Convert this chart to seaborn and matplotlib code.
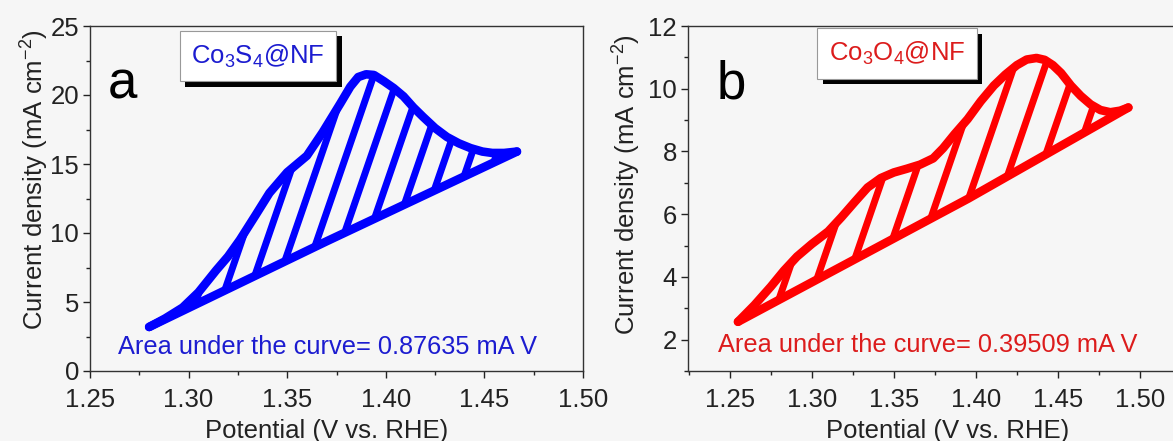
import numpy as np
import matplotlib
matplotlib.use("Agg")
import matplotlib.pyplot as plt
import seaborn as sns
from matplotlib.patches import Polygon
from matplotlib.ticker import MultipleLocator
import matplotlib.patheffects as pe

# ---------------- data ----------------
# Panel a: Co3S4@NF
a_upper_x = [1.280, 1.288, 1.297, 1.305, 1.314, 1.320, 1.326, 1.334, 1.341, 1.350,
             1.360, 1.368, 1.377, 1.382, 1.386, 1.390, 1.394, 1.399, 1.404, 1.409,
             1.414, 1.419, 1.425, 1.431, 1.437, 1.443, 1.449, 1.454, 1.460, 1.4665]
a_upper_y = [3.19, 3.8, 4.6, 5.7, 7.3, 8.3, 9.5, 11.3, 12.9, 14.4,
             15.6, 17.3, 19.4, 20.6, 21.3, 21.5, 21.45, 21.0, 20.5, 19.9,
             19.1, 18.4, 17.6, 16.96, 16.5, 16.15, 15.9, 15.8, 15.8, 15.9]
a_lower_x = [1.280, 1.370, 1.4665]
a_lower_y = [3.19, 9.4, 15.9]

# Panel b: Co3O4@NF
b_upper_x = [1.255, 1.265, 1.275, 1.283, 1.291, 1.300, 1.310, 1.318, 1.326, 1.334,
             1.342, 1.350, 1.358, 1.366, 1.374, 1.380, 1.387, 1.395, 1.403, 1.411,
             1.418, 1.425, 1.431, 1.437, 1.442, 1.447, 1.452, 1.458, 1.464, 1.470,
             1.476, 1.482, 1.488, 1.493]
b_upper_y = [2.57, 3.1, 3.69, 4.2, 4.65, 5.05, 5.45, 5.9, 6.38, 6.85,
             7.15, 7.33, 7.45, 7.58, 7.78, 8.1, 8.55, 9.03, 9.6, 10.1,
             10.45, 10.75, 10.93, 10.98, 10.92, 10.75, 10.5, 10.1, 9.77, 9.5,
             9.32, 9.25, 9.3, 9.4]
b_lower_x = [1.255, 1.3955, 1.493]
b_lower_y = [2.57, 6.5, 9.4]

labels = ["Co$_3$S$_4$@NF", "Co$_3$O$_4$@NF"]
panel_letters = ["a", "b"]
areas = ["Area under the curve= 0.87635 mA V", "Area under the curve= 0.39509 mA V"]
xlabel = "Potential (V vs. RHE)"
ylabel = "Current density (mA cm$^{-2}$)"

# ---------------- style ----------------
sns.set_theme(style="ticks")
plt.rcParams["font.family"] = ["Liberation Sans", "DejaVu Sans"]
plt.rcParams["mathtext.fontset"] = "custom"
plt.rcParams["mathtext.rm"] = "Liberation Sans"
plt.rcParams["mathtext.it"] = "Liberation Sans:italic"
plt.rcParams["mathtext.bf"] = "Liberation Sans:bold"

BG = "#f6f6f6"
W, H = 1173, 441
fig = plt.figure(figsize=(W / 100, H / 100), dpi=100, facecolor=BG)
axA = fig.add_axes([90 / W, 70 / H, 493 / W, 345 / H], facecolor=BG)
axB = fig.add_axes([688 / W, 70 / H, 492 / W, 345 / H], facecolor=BG)


def hatch(ax, ux, uy, lx, ly, color, spacing, angle, lw):
    verts = np.column_stack([np.r_[ux, lx[::-1]], np.r_[uy, ly[::-1]]])
    poly = Polygon(verts, closed=True, facecolor="none", edgecolor="none",
                   transform=ax.transData)
    ax.add_patch(poly)
    disp = ax.transData.transform(verts)
    x0, x1 = disp[:, 0].min(), disp[:, 0].max()
    y0, y1 = disp[:, 1].min(), disp[:, 1].max()
    dx = (y1 - y0) / np.tan(np.deg2rad(angle))
    inv = ax.transData.inverted()
    for xs in np.arange(x0 - dx - spacing, x1 + spacing, spacing):
        p = inv.transform([[xs, y0], [xs + dx, y1]])
        ln, = ax.plot(p[:, 0], p[:, 1], color=color, lw=lw,
                      solid_capstyle="butt", zorder=2)
        ln.set_clip_path(poly)


specs = [
    dict(ax=axA, ux=a_upper_x, uy=a_upper_y, lx=a_lower_x, ly=a_lower_y,
         color="#0000ff", tcolor="#1c1cd0", xlim=(1.25, 1.50), ylim=(0, 25),
         ymaj=5, ymin=2.5, spacing=25, box=(0.341, 0.913), letter=(0.065, 0.791),
         area=(0.057, 0.07), ylab=(-0.08, 0.555), xlab=(0.479, -0.14)),
    dict(ax=axB, ux=b_upper_x, uy=b_upper_y, lx=b_lower_x, ly=b_lower_y,
         color="#ff0000", tcolor="#dc1c1c", xlim=(1.2245, 1.5245), ylim=(1, 12),
         ymaj=2, ymin=1, spacing=31, box=(0.425, 0.920), letter=(0.089, 0.791),
         area=(0.061, 0.075), ylab=(-0.092, 0.54), xlab=(0.527, -0.14)),
]

for i, s in enumerate(specs):
    ax = s["ax"]
    ax.set_xlim(*s["xlim"])
    ax.set_ylim(*s["ylim"])
    ax.set_autoscale_on(False)

    hatch(ax, np.array(s["ux"]), np.array(s["uy"]), np.array(s["lx"]),
          np.array(s["ly"]), s["color"], s["spacing"], 71, 5.0)

    for xx, yy in [(s["ux"], s["uy"]), (s["lx"], s["ly"])]:
        sns.lineplot(x=xx, y=yy, ax=ax, color=s["color"], lw=6.2, sort=False,
                     estimator=None, solid_capstyle="round",
                     solid_joinstyle="round", zorder=3)

    ax.xaxis.set_major_locator(MultipleLocator(0.05))
    ax.xaxis.set_minor_locator(MultipleLocator(0.025))
    ax.yaxis.set_major_locator(MultipleLocator(s["ymaj"]))
    ax.yaxis.set_minor_locator(MultipleLocator(s["ymin"]))
    ax.xaxis.set_major_formatter(matplotlib.ticker.FormatStrFormatter("%.2f"))
    ax.tick_params(which="both", direction="out", top=False, right=False,
                   labelsize=18.5, colors="#222222", pad=3)
    ax.tick_params(axis="x", which="major", pad=7)
    ax.tick_params(which="major", length=5, width=1)
    ax.tick_params(which="minor", length=3, width=1)
    for sp in ax.spines.values():
        sp.set_linewidth(1.0)
        sp.set_color("#333333")

    ax.set_xlabel(xlabel, fontsize=18.5, color="#222222")
    ax.set_ylabel(ylabel, fontsize=18.5, color="#222222")
    ax.xaxis.set_label_coords(*s["xlab"])
    ax.yaxis.set_label_coords(*s["ylab"])

    t = ax.text(*s["box"], labels[i], transform=ax.transAxes, ha="center",
                va="center", fontsize=18.5, color=s["tcolor"], zorder=5,
                bbox=dict(boxstyle="square,pad=0.45", fc="white", ec="#999999",
                          lw=0.8))
    t.get_bbox_patch().set_path_effects([
        pe.SimplePatchShadow(offset=(4, -4), shadow_rgbFace="black", alpha=1),
        pe.Normal()])

    ax.text(*s["letter"], panel_letters[i], transform=ax.transAxes, ha="center",
            va="baseline", fontsize=38, color="black")
    ax.text(*s["area"], areas[i], transform=ax.transAxes, ha="left",
            va="center", fontsize=18.3, color=s["tcolor"])

fig.savefig("out.png", dpi=100, facecolor=BG)
